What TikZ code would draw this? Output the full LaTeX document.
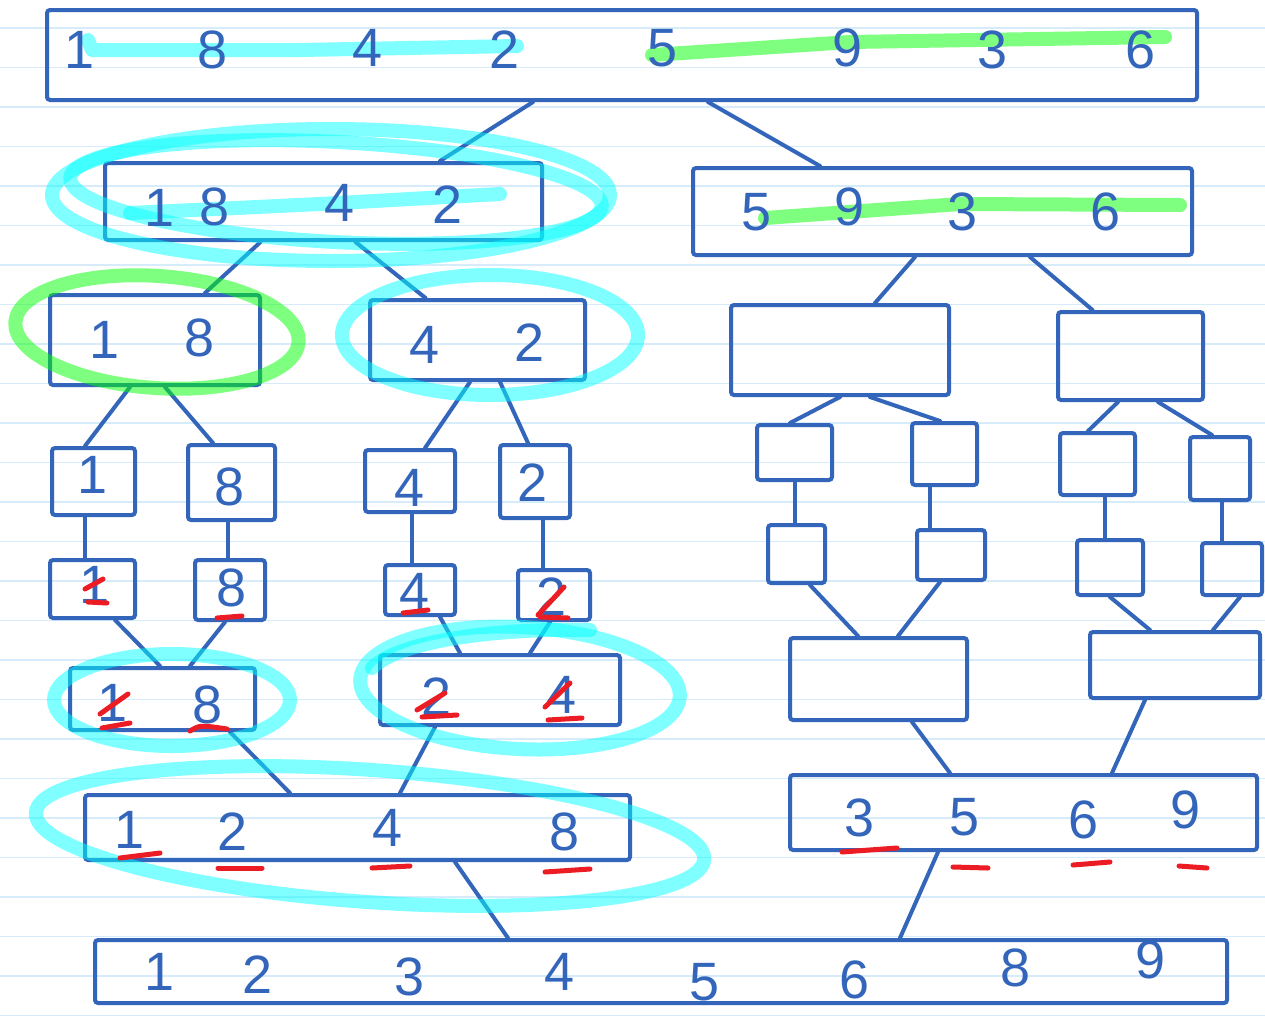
\documentclass[tikz,border=0pt]{standalone}
\usepackage{fontspec}
\setmainfont{Liberation Sans}
\definecolor{ink}{RGB}{51,102,187}
\definecolor{ruled}{RGB}{214,236,250}
\definecolor{hlc}{RGB}{0,255,255}
\definecolor{hlg}{RGB}{0,255,0}
\definecolor{marker}{RGB}{236,28,36}
\begin{document}
\begin{tikzpicture}[x=1pt,y=-1pt,
  box/.style={draw=ink,line width=4pt,rounded corners=3pt,inner sep=0pt},
  wire/.style={ink,line width=4pt,line cap=round},
  digit/.style={text=ink,font=\fontsize{54}{54}\selectfont,inner sep=0pt},
  hlcyan/.style={draw=hlc,draw opacity=0.5,line width=14pt,line cap=round,line join=round},
  hlgreen/.style={draw=hlg,draw opacity=0.5,line width=14pt,line cap=round,line join=round},
  redmark/.style={marker,line width=5pt,line cap=round}]
\fill[white] (0,0) rectangle (1265,1017);
\useasboundingbox (0,0) rectangle (1265,1017);
\foreach \k in {0,...,25}
  \draw[ruled,line width=1.5pt] (0,{28+39.5*\k}) -- (1265,{28+39.5*\k});
% boxes
\node[box,minimum width=1150pt,minimum height=90pt] (all) at (622,55) {};
\node[box,minimum width=437pt,minimum height=77pt] (a) at (323.5,201.5) {};
\node[box,minimum width=499pt,minimum height=87pt] (b) at (942.5,211.5) {};
\node[box,minimum width=210pt,minimum height=90pt] (aa) at (155,340) {};
\node[box,minimum width=215pt,minimum height=80pt] (ab) at (477.5,340) {};
\node[box,minimum width=218pt,minimum height=90pt] (ba) at (840,350) {};
\node[box,minimum width=145pt,minimum height=88pt] (bb) at (1130.5,356) {};
\node[box,minimum width=83pt,minimum height=67pt] (aaa) at (93.5,481.5) {};
\node[box,minimum width=87pt,minimum height=75pt] (aab) at (231.5,482.5) {};
\node[box,minimum width=90pt,minimum height=62pt] (aba) at (410,481) {};
\node[box,minimum width=70pt,minimum height=73pt] (abb) at (535,481.5) {};
\node[box,minimum width=75pt,minimum height=55pt] (baa) at (794.5,452.5) {};
\node[box,minimum width=65pt,minimum height=62pt] (bab) at (944.5,454) {};
\node[box,minimum width=75pt,minimum height=62pt] (bba) at (1097.5,464) {};
\node[box,minimum width=60pt,minimum height=63pt] (bbb) at (1220,468.5) {};
\node[box,minimum width=85pt,minimum height=58pt] (saa) at (92.5,589) {};
\node[box,minimum width=70pt,minimum height=60pt] (sab) at (230,590) {};
\node[box,minimum width=70pt,minimum height=50pt] (sba) at (420,590) {};
\node[box,minimum width=72pt,minimum height=50pt] (sbb) at (554,595) {};
\node[box,minimum width=57pt,minimum height=58pt] (sca) at (796.5,554) {};
\node[box,minimum width=68pt,minimum height=50pt] (scb) at (951,555) {};
\node[box,minimum width=66pt,minimum height=55pt] (sda) at (1110,567.5) {};
\node[box,minimum width=60pt,minimum height=52pt] (sdb) at (1232,569) {};
\node[box,minimum width=185pt,minimum height=62pt] (ma) at (162.5,699) {};
\node[box,minimum width=240pt,minimum height=70pt] (mb) at (500,690) {};
\node[box,minimum width=177pt,minimum height=82pt] (mc) at (878.5,679) {};
\node[box,minimum width=170pt,minimum height=66pt] (md) at (1175,665) {};
\node[box,minimum width=545pt,minimum height=65pt] (ra) at (357.5,827.5) {};
\node[box,minimum width=467pt,minimum height=75pt] (rb) at (1023.5,812.5) {};
\node[box,minimum width=1132pt,minimum height=63pt] (fin) at (661,971.5) {};
% split
\draw[wire] ([xshift=-89pt]all.south) -- ([xshift=116.5pt]a.north);
\draw[wire] ([xshift=86pt]all.south) -- ([xshift=-122.5pt]b.north);
\draw[wire] ([xshift=-63pt]a.south) -- ([xshift=50pt]aa.north);
\draw[wire] ([xshift=32pt]a.south) -- ([xshift=-52pt]ab.north);
\draw[wire] ([xshift=-27.5pt]b.south) -- ([xshift=35pt]ba.north);
\draw[wire] ([xshift=87.5pt]b.south) -- ([xshift=-38pt]bb.north);
\draw[wire] ([xshift=-25pt]aa.south) -- ([xshift=-8.5pt]aaa.north);
\draw[wire] ([xshift=10pt]aa.south) -- ([xshift=-18.5pt]aab.north);
\draw[wire] ([xshift=-7.5pt]ab.south) -- ([xshift=15pt]aba.north);
\draw[wire] ([xshift=22.5pt]ab.south) -- ([xshift=-7pt]abb.north);
\draw[wire] (ba.south) -- ([xshift=-4.5pt]baa.north);
\draw[wire] ([xshift=30pt]ba.south) -- ([xshift=-4.5pt]bab.north);
\draw[wire] ([xshift=-12.5pt]bb.south) -- ([xshift=-9.5pt]bba.north);
\draw[wire] ([xshift=27.5pt]bb.south) -- ([xshift=-8pt]bbb.north);
% copy down
\draw[wire] ([xshift=-8.5pt]aaa.south) -- ([xshift=-7.5pt]saa.north);
\draw[wire] ([xshift=-3.5pt]aab.south) -- ([xshift=-2pt]sab.north);
\draw[wire] ([xshift=2pt]aba.south) -- ([xshift=-8pt]sba.north);
\draw[wire] ([xshift=8pt]abb.south) -- ([xshift=-11pt]sbb.north);
\draw[wire] ([xshift=0.5pt]baa.south) -- ([xshift=-1.5pt]sca.north);
\draw[wire] ([xshift=-14.5pt]bab.south) -- ([xshift=-21pt]scb.north);
\draw[wire] ([xshift=7.5pt]bba.south) -- ([xshift=-5pt]sda.north);
\draw[wire] ([xshift=2pt]bbb.south) -- ([xshift=-10pt]sdb.north);
% merge
\draw[wire] ([xshift=22.5pt]saa.south) -- ([xshift=-2.5pt]ma.north);
\draw[wire] ([xshift=-5pt]sab.south) -- ([xshift=27.5pt]ma.north);
\draw[wire] ([xshift=20pt]sba.south) -- ([xshift=-40pt]mb.north);
\draw[wire] ([xshift=-4pt]sbb.south) -- ([xshift=30pt]mb.north);
\draw[wire] ([xshift=13.5pt]sca.south) -- ([xshift=-20.5pt]mc.north);
\draw[wire] ([xshift=-11pt]scb.south) -- ([xshift=19.5pt]mc.north);
\draw[wire] (sda.south) -- ([xshift=-25pt]md.north);
\draw[wire] ([xshift=8pt]sdb.south) -- ([xshift=38pt]md.north);
\draw[wire] ([xshift=67.5pt]ma.south) -- ([xshift=-67.5pt]ra.north);
\draw[wire] ([xshift=-65pt]mb.south) -- ([xshift=42.5pt]ra.north);
\draw[wire] ([xshift=33.5pt]mc.south) -- ([xshift=-73.5pt]rb.north);
\draw[wire] ([xshift=-30pt]md.south) -- ([xshift=88.5pt]rb.north);
\draw[wire] ([xshift=97.5pt]ra.south) -- ([xshift=-153pt]fin.north);
\draw[wire] ([xshift=-85.5pt]rb.south) -- ([xshift=239pt]fin.north);
% highlighter
\draw[hlcyan] (88,40) -- (92,50) -- (300,50) -- (517,46);
\draw[hlgreen] (652,55) -- (850,42) -- (1165,37);
\draw[hlcyan] (130,213) -- (320,204) -- (500,194);
\draw[hlgreen] (765,218) -- (960,204) -- (1180,205);
\draw[hlcyan] (331,195) ellipse [x radius=279, y radius=66];
\draw[hlcyan,rotate around={-3:(336,192)}] (336,192) ellipse [x radius=266, y radius=50];
\draw[hlgreen,rotate around={-4:(157,332)}] (157,332) ellipse [x radius=142, y radius=56];
\draw[hlcyan] (490,335) ellipse [x radius=148, y radius=60];
\draw[hlcyan] (172,700) ellipse [x radius=118, y radius=46];
\draw[hlcyan,rotate around={-3:(520,688)}] (520,688) ellipse [x radius=160, y radius=61];
\draw[hlcyan] (372,668) .. controls (400,640) and (500,628) .. (590,630);
\draw[hlcyan,rotate around={-4:(370,836)}] (370,836) ellipse [x radius=335, y radius=66];
% numbers
\node[digit] (t1) at (80,50) {1};
\node[digit] (t2) at (213,50) {8};
\node[digit] (t3) at (368,48) {4};
\node[digit] (t4) at (505,50) {2};
\node[digit] (t5) at (663,48) {5};
\node[digit] (t6) at (848,48) {9};
\node[digit] (t7) at (993,50) {3};
\node[digit] (t8) at (1140,50) {6};
\node[digit] (a1) at (160,208) {1};
\node[digit] (a2) at (215,207) {8};
\node[digit] (a3) at (340,203) {4};
\node[digit] (a4) at (448,205) {2};
\node[digit] (b1) at (757,212) {5};
\node[digit] (b2) at (850,207) {9};
\node[digit] (b3) at (963,212) {3};
\node[digit] (b4) at (1105,212) {6};
\node[digit] (aa1) at (105,340) {1};
\node[digit] (aa2) at (200,338) {8};
\node[digit] (ab1) at (425,345) {4};
\node[digit] (ab2) at (530,343) {2};
\node[digit] (aaa1) at (93,475) {1};
\node[digit] (aab1) at (230,487) {8};
\node[digit] (aba1) at (410,488) {4};
\node[digit] (abb1) at (533,483) {2};
\node[digit] (saa1) at (95,585) {1};
\node[digit] (sab1) at (232,588) {8};
\node[digit] (sba1) at (415,592) {4};
\node[digit] (sbb1) at (552,597) {2};
\node[digit] (ma1) at (113,703) {1};
\node[digit] (ma2) at (208,705) {8};
\node[digit] (mb1) at (437,697) {2};
\node[digit] (mb2) at (562,695) {4};
\node[digit] (ra1) at (130,830) {1};
\node[digit] (ra2) at (233,832) {2};
\node[digit] (ra3) at (388,828) {4};
\node[digit] (ra4) at (565,832) {8};
\node[digit] (rb1) at (860,818) {3};
\node[digit] (rb2) at (965,817) {5};
\node[digit] (rb3) at (1083,820) {6};
\node[digit] (rb4) at (1185,810) {9};
\node[digit] (f1) at (160,972) {1};
\node[digit] (f2) at (258,975) {2};
\node[digit] (f3) at (410,977) {3};
\node[digit] (f4) at (560,972) {4};
\node[digit] (f5) at (705,982) {5};
\node[digit] (f6) at (855,980) {6};
\node[digit] (f7) at (1015,968) {8};
\node[digit] (f8) at (1150,960) {9};
% red marks
\draw[redmark] (85,589) -- (103,579);
\draw[redmark] (88,602) -- (107,603);
\draw[redmark] (217,618) -- (242,616);
\draw[redmark] (403,613) -- (428,610);
\draw[redmark] (538,615) -- (564,587);
\draw[redmark] (540,617) -- (568,618);
\draw[redmark] (100,714) -- (128,694);
\draw[redmark] (102,728) -- (130,723);
\draw[redmark] (190,731) .. controls (200,725) .. (227,729);
\draw[redmark] (417,710) -- (445,693);
\draw[redmark] (422,717) -- (457,715);
\draw[redmark] (545,707) -- (570,683);
\draw[redmark] (548,720) -- (582,718);
\draw[redmark] (120,858) -- (160,853);
\draw[redmark] (218,868) -- (262,868);
\draw[redmark] (372,868) -- (410,866);
\draw[redmark] (545,872) -- (590,869);
\draw[redmark] (842,852) -- (897,848);
\draw[redmark] (953,867) -- (988,868);
\draw[redmark] (1073,865) -- (1110,862);
\draw[redmark] (1179,866) -- (1207,868);
\end{tikzpicture}
\end{document}
